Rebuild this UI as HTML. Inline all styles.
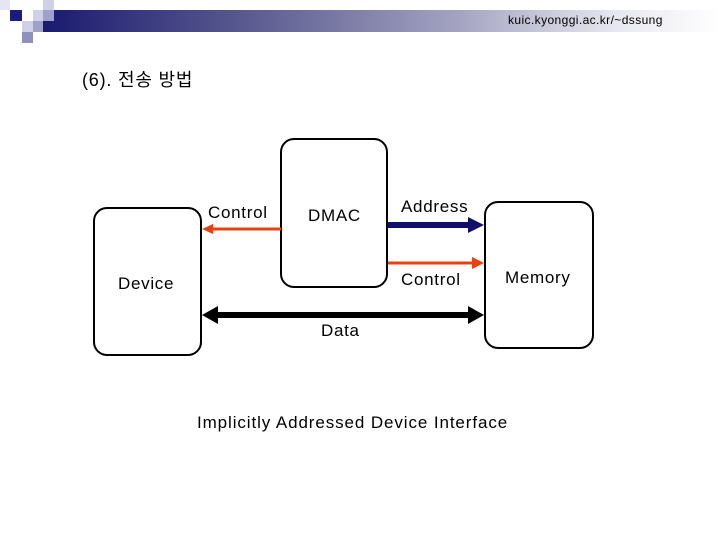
<!DOCTYPE html>
<html><head><meta charset="utf-8"><style>
body{margin:0;width:720px;height:540px;background:#fff;position:relative;overflow:hidden;font-family:"Liberation Sans","Noto Sans CJK KR",sans-serif}
.a{position:absolute}
.bx{position:absolute;border:2px solid #000;border-radius:14px;box-sizing:border-box}
.t{position:absolute;font-size:17px;white-space:nowrap;letter-spacing:0.7px}
</style></head><body>
<div class="a" style="left:43px;top:10px;width:677px;height:22px;background:linear-gradient(90deg,#1a1a70,#5a5a90 30%,#a0a0bf 60%,#e8e8f0 85%,#fff)"></div>
<div class="a" style="left:0;top:0;width:10px;height:10px;background:#e6e6f2"></div>
<div class="a" style="left:10px;top:10px;width:12px;height:11px;background:#1a1a80"></div>
<div class="a" style="left:33px;top:10px;width:10px;height:11px;background:#d0d0e8"></div>
<div class="a" style="left:43px;top:0;width:11px;height:10px;background:#d0d0e8"></div>
<div class="a" style="left:43px;top:10px;width:11px;height:11px;background:#a0a0cc"></div>
<div class="a" style="left:22px;top:21px;width:11px;height:11px;background:#d0d0e8"></div>
<div class="a" style="left:33px;top:21px;width:10px;height:11px;background:#a0a0cc"></div>
<div class="a" style="left:22px;top:32px;width:11px;height:11px;background:#9090c0"></div>
<div class="t" style="left:508px;top:13px;font-size:12px;letter-spacing:0.4px">kuic.kyonggi.ac.kr/~dssung</div>
<div class="t" style="left:82px;top:66px;font-size:18px;letter-spacing:0.8px">(6). 전송 방법</div>
<div class="bx" style="left:93px;top:207px;width:109px;height:149px"></div>
<div class="bx" style="left:280px;top:138px;width:108px;height:150px"></div>
<div class="bx" style="left:484px;top:201px;width:110px;height:148px"></div>
<svg class="a" style="left:0;top:0" width="720" height="540">
<line x1="281" y1="229" x2="212" y2="229" stroke="#e84010" stroke-width="3"/>
<polygon points="202,229 213,224 213,234" fill="#e84010"/>
<line x1="388" y1="225" x2="470" y2="225" stroke="#10106a" stroke-width="6"/>
<polygon points="484,225 468,217 468,233" fill="#10106a"/>
<line x1="388" y1="263" x2="474" y2="263" stroke="#e84010" stroke-width="3"/>
<polygon points="484,263 472,257 472,269" fill="#e84010"/>
<line x1="215" y1="315" x2="470" y2="315" stroke="#000" stroke-width="6"/>
<polygon points="202,315 218,306 218,324" fill="#000"/>
<polygon points="484,315 468,306 468,324" fill="#000"/>
</svg>
<div class="t" style="left:208px;top:203px">Control</div>
<div class="t" style="left:308px;top:206px">DMAC</div>
<div class="t" style="left:401px;top:197px">Address</div>
<div class="t" style="left:401px;top:270px">Control</div>
<div class="t" style="left:505px;top:268px">Memory</div>
<div class="t" style="left:118px;top:274px">Device</div>
<div class="t" style="left:321px;top:321px">Data</div>
<div class="t" style="left:197px;top:413px;letter-spacing:0.9px">Implicitly Addressed Device Interface</div>
</body></html>
